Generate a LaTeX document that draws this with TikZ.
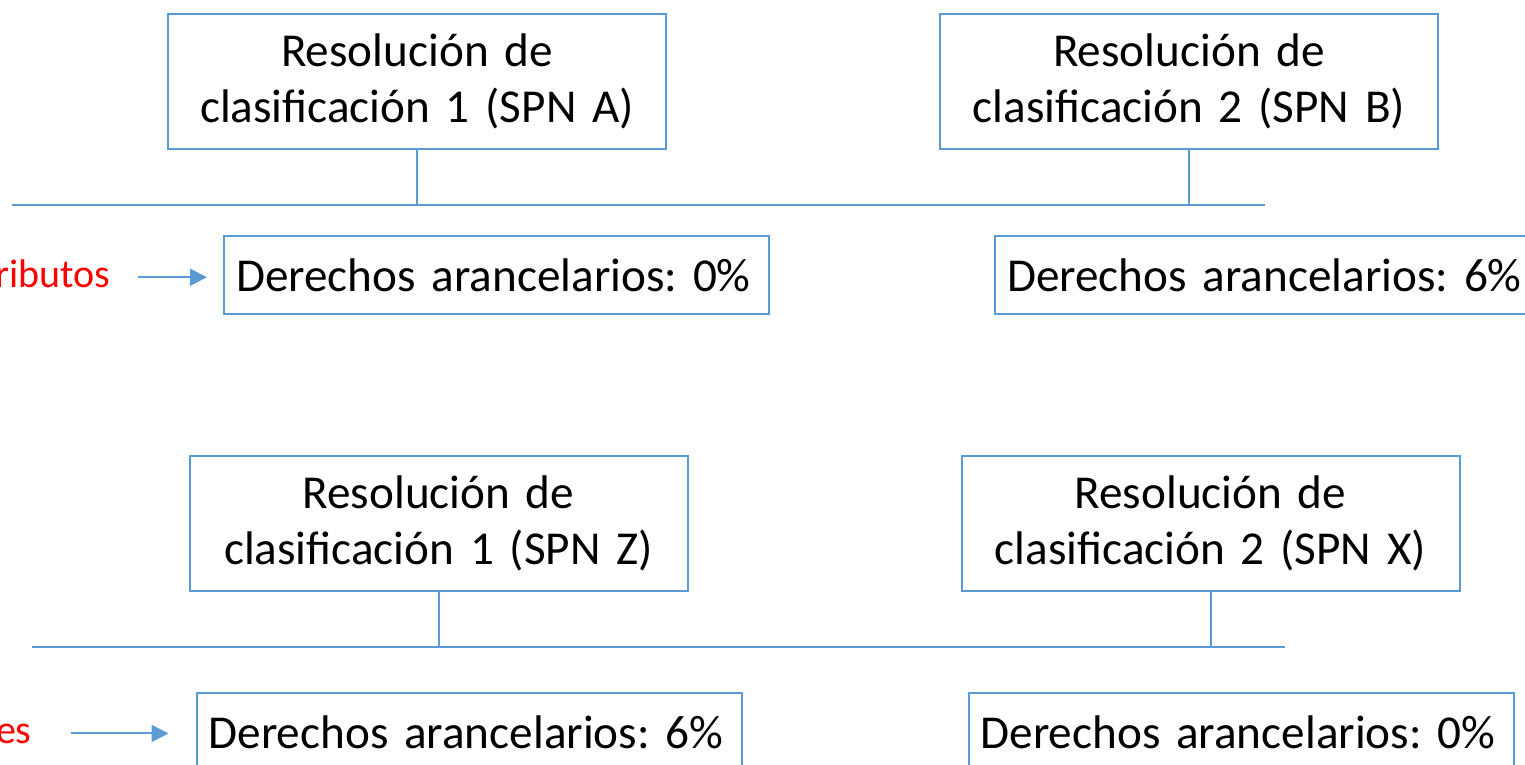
\documentclass[tikz,border=0pt]{standalone}
\usepackage{fontspec}
\setmainfont{Carlito}
\usepackage{tikz}
\usetikzlibrary{positioning,arrows.meta}

\definecolor{lineblue}{HTML}{5B9BD5}
\frenchspacing

\begin{document}
\begin{tikzpicture}[x=0.5pt,y=-0.5pt,
  resnode/.style={draw=lineblue,line width=1pt,rectangle,inner sep=0pt,text width=249pt,minimum height=67.5pt,align=center,font=\fontsize{23.6pt}{28pt}\selectfont},
  dernode/.style={draw=lineblue,line width=1pt,rectangle,inner xsep=6pt,inner ysep=0pt,text width=260.5pt,minimum height=39pt,align=left,font=\fontsize{23.6pt}{28pt}\selectfont},
  rednode/.style={text=red,inner sep=0pt,font=\fontsize{20pt}{24pt}\selectfont},
  myarrow/.style={draw=lineblue,line width=1pt,-{Triangle[length=8.5pt,width=8.5pt]}}
]
\path[use as bounding box,clip] (0,0) rectangle (1525,765);

\node[resnode] at (417,81.5) (resA) {Resolución de\\clasificación 1 (SPN A)};
\node[resnode] at (1189,81.5) (resB) {Resolución de\\clasificación 2 (SPN B)};
\node[resnode] at (438.5,523.5) (resZ) {Resolución de\\clasificación 1 (SPN Z)};
\node[resnode] at (1210.5,523.5) (resX) {Resolución de\\clasificación 2 (SPN X)};

\node[dernode, below right=42.5pt and 28pt of resA.south west] (derA) {Derechos arancelarios: 0\%};
\node[dernode, below right=42.5pt and 27.5pt of resB.south west] (derB) {Derechos arancelarios: 6\%};
\node[dernode, below right=50pt and 3.5pt of resZ.south west] (derZ) {Derechos arancelarios: 6\%};
\node[dernode, below right=50pt and 3.5pt of resX.south west] (derX) {Derechos arancelarios: 0\%};

\coordinate (busTopL) at (12,205);
\coordinate (busTopR) at (1265,205);
\coordinate (busBotL) at (32,647);
\coordinate (busBotR) at (1285,647);

\node[rednode, anchor=base east] at (111,287) (lblTop) {ributos};
\node[rednode, anchor=base east] at (32,743) (lblBot) {es};

\path[draw=lineblue,line width=1pt]
(busTopL) edge (busTopR)
(resA.south) edge (resA.south |- busTopL)
(resB.south) edge (resB.south |- busTopL);

\path[draw=lineblue,line width=1pt]
(busBotL) edge (busBotR)
(resZ.south) edge (resZ.south |- busBotL)
(resX.south) edge (resX.south |- busBotL);

\draw[myarrow, shorten <=13.5pt, shorten >=8pt] ([yshift=-2pt]lblTop.east) -- ([yshift=-2pt]lblTop.east -| derA.west);
\draw[myarrow, shorten <=19.5pt, shorten >=13.5pt] (lblBot.east) -- (lblBot.east -| derZ.west);

\end{tikzpicture}
\end{document}
